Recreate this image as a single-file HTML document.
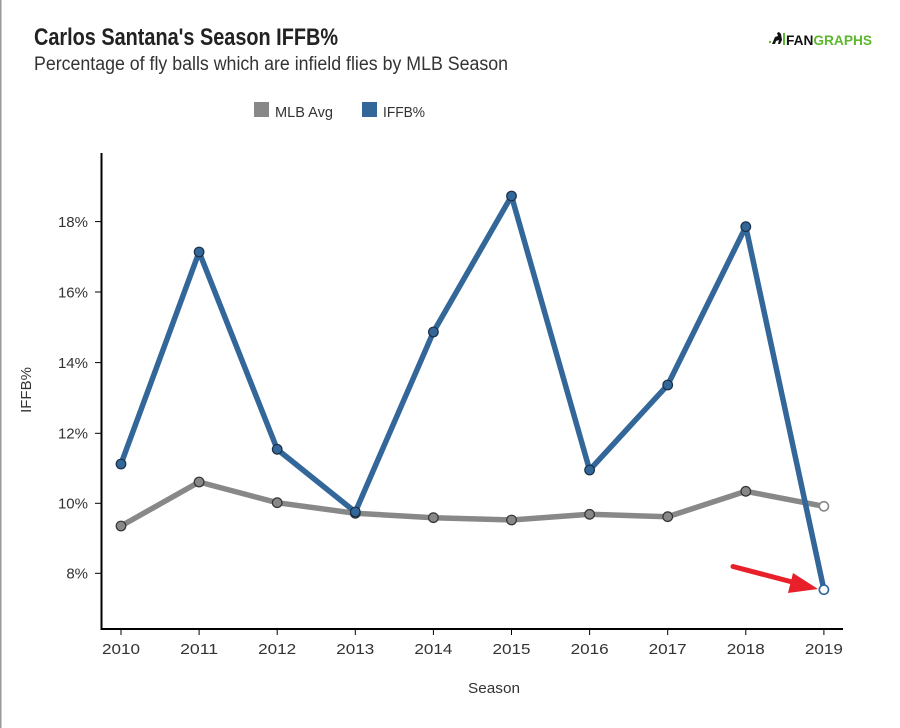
<!DOCTYPE html>
<html>
<head>
<meta charset="utf-8">
<style>
  html, body { margin: 0; padding: 0; background: #fff; }
  body { width: 900px; height: 728px; overflow: hidden; }
  svg { display: block; font-family: "Liberation Sans", "DejaVu Sans", sans-serif; }
</style>
</head>
<body>
<svg width="900" height="728" viewBox="0 0 900 728" xmlns="http://www.w3.org/2000/svg">
  <rect x="0" y="0" width="900" height="728" fill="#fff"/>
  <!-- left border -->
  <rect x="0" y="0" width="1.5" height="728" fill="#9a9a9a"/>

  <!-- Title -->
  <text x="34" y="45" font-size="24" font-weight="bold" fill="#222" textLength="304" lengthAdjust="spacingAndGlyphs">Carlos Santana's Season IFFB%</text>
  <text x="34" y="70" font-size="19" fill="#333" textLength="474" lengthAdjust="spacingAndGlyphs">Percentage of fly balls which are infield flies by MLB Season</text>

  <!-- Logo -->
  <g>
    <rect x="769" y="41" width="2" height="2" fill="#5cb82e"/>
    <path d="M772 44 L775 37 L778 36 L777 33 L779 32 L781 34 L782 40 L780 44 L778 44 L779 40 L776 41 L775 44 Z" fill="#111"/>
    <rect x="783" y="33" width="2" height="12" fill="#5cb82e"/>
    <text x="786" y="45" font-size="14" font-weight="bold" fill="#111" textLength="86" lengthAdjust="spacingAndGlyphs">FAN<tspan fill="#5cb82e">GRAPHS</tspan></text>
  </g>

  <!-- Legend -->
  <rect x="254" y="102" width="15" height="15" fill="#888"/>
  <text x="275" y="117" font-size="15" fill="#333" textLength="58" lengthAdjust="spacingAndGlyphs">MLB Avg</text>
  <rect x="362" y="102" width="15" height="15" fill="#336699"/>
  <text x="383" y="117" font-size="15" fill="#333" textLength="42" lengthAdjust="spacingAndGlyphs">IFFB%</text>

  <!-- Axes -->
  <line x1="101.5" y1="153" x2="101.5" y2="630" stroke="#000" stroke-width="2"/>
  <line x1="100.5" y1="629" x2="843" y2="629" stroke="#000" stroke-width="2"/>

  <!-- Y ticks -->
  <g stroke="#000" stroke-width="1">
    <line x1="95" y1="221.6" x2="101" y2="221.6"/>
    <line x1="95" y1="292" x2="101" y2="292"/>
    <line x1="95" y1="362.6" x2="101" y2="362.6"/>
    <line x1="95" y1="433.3" x2="101" y2="433.3"/>
    <line x1="95" y1="503.3" x2="101" y2="503.3"/>
    <line x1="95" y1="573.3" x2="101" y2="573.3"/>
  </g>
  <g font-size="15" fill="#333" text-anchor="end">
    <text x="88" y="227">18%</text>
    <text x="88" y="297.5">16%</text>
    <text x="88" y="368">14%</text>
    <text x="88" y="438.5">12%</text>
    <text x="88" y="508.5">10%</text>
    <text x="88" y="578.5">8%</text>
  </g>
  <text transform="translate(31,390) rotate(-90)" font-size="15" fill="#333" text-anchor="middle">IFFB%</text>

  <!-- X ticks -->
  <g stroke="#000" stroke-width="1">
    <line x1="121" y1="629" x2="121" y2="635"/>
    <line x1="199.1" y1="629" x2="199.1" y2="635"/>
    <line x1="277.2" y1="629" x2="277.2" y2="635"/>
    <line x1="355.3" y1="629" x2="355.3" y2="635"/>
    <line x1="433.4" y1="629" x2="433.4" y2="635"/>
    <line x1="511.5" y1="629" x2="511.5" y2="635"/>
    <line x1="589.6" y1="629" x2="589.6" y2="635"/>
    <line x1="667.7" y1="629" x2="667.7" y2="635"/>
    <line x1="745.8" y1="629" x2="745.8" y2="635"/>
    <line x1="823.9" y1="629" x2="823.9" y2="635"/>
  </g>
  <g font-size="15" fill="#333" text-anchor="middle">
    <text x="121" y="654" textLength="38" lengthAdjust="spacingAndGlyphs">2010</text>
    <text x="199.1" y="654" textLength="38" lengthAdjust="spacingAndGlyphs">2011</text>
    <text x="277.2" y="654" textLength="38" lengthAdjust="spacingAndGlyphs">2012</text>
    <text x="355.3" y="654" textLength="38" lengthAdjust="spacingAndGlyphs">2013</text>
    <text x="433.4" y="654" textLength="38" lengthAdjust="spacingAndGlyphs">2014</text>
    <text x="511.5" y="654" textLength="38" lengthAdjust="spacingAndGlyphs">2015</text>
    <text x="589.6" y="654" textLength="38" lengthAdjust="spacingAndGlyphs">2016</text>
    <text x="667.7" y="654" textLength="38" lengthAdjust="spacingAndGlyphs">2017</text>
    <text x="745.8" y="654" textLength="38" lengthAdjust="spacingAndGlyphs">2018</text>
    <text x="823.9" y="654" textLength="38" lengthAdjust="spacingAndGlyphs">2019</text>
  </g>
  <text x="494" y="693" font-size="15" fill="#333" text-anchor="middle" textLength="52" lengthAdjust="spacingAndGlyphs">Season</text>

  <!-- MLB Avg series -->
  <polyline fill="none" stroke="#888" stroke-width="5.5" stroke-linejoin="round"
    points="121,526 199.1,482 277.2,502.7 355.3,513.3 433.4,517.7 511.5,520 589.6,514.3 667.7,516.7 745.8,491.3 823.9,506.3"/>

  <!-- IFFB% series -->
  <polyline fill="none" stroke="#336699" stroke-width="5.5" stroke-linejoin="round"
    points="121,464 199.1,252 277.2,449.3 355.3,512 433.4,332 511.5,196 589.6,470 667.7,385 745.8,226.7 823.9,589.7"/>

  <!-- MLB markers -->
  <g fill="#888" stroke="#333" stroke-width="1.2">
    <circle cx="121" cy="526" r="4.8"/>
    <circle cx="199.1" cy="482" r="4.8"/>
    <circle cx="277.2" cy="502.7" r="4.8"/>
    <circle cx="355.3" cy="513.3" r="4.8"/>
    <circle cx="433.4" cy="517.7" r="4.8"/>
    <circle cx="511.5" cy="520" r="4.8"/>
    <circle cx="589.6" cy="514.3" r="4.8"/>
    <circle cx="667.7" cy="516.7" r="4.8"/>
    <circle cx="745.8" cy="491.3" r="4.8"/>
  </g>
  <circle cx="823.9" cy="506.3" r="4.6" fill="#fff" stroke="#888" stroke-width="1.6"/>

  <!-- IFFB markers -->
  <g fill="#336699" stroke="#1a2f47" stroke-width="1.2">
    <circle cx="121" cy="464" r="4.8"/>
    <circle cx="199.1" cy="252" r="4.8"/>
    <circle cx="277.2" cy="449.3" r="4.8"/>
    <circle cx="355.3" cy="512" r="4.8"/>
    <circle cx="433.4" cy="332" r="4.8"/>
    <circle cx="511.5" cy="196" r="4.8"/>
    <circle cx="589.6" cy="470" r="4.8"/>
    <circle cx="667.7" cy="385" r="4.8"/>
    <circle cx="745.8" cy="226.7" r="4.8"/>
  </g>
  <circle cx="823.9" cy="589.7" r="4.6" fill="#fff" stroke="#336699" stroke-width="1.6"/>

  <!-- Red arrow -->
  <line x1="733" y1="566.5" x2="796" y2="583" stroke="#e8202a" stroke-width="5" stroke-linecap="round"/>
  <polygon points="818,589 793,573 788,593" fill="#e8202a"/>
</svg>
</body>
</html>
